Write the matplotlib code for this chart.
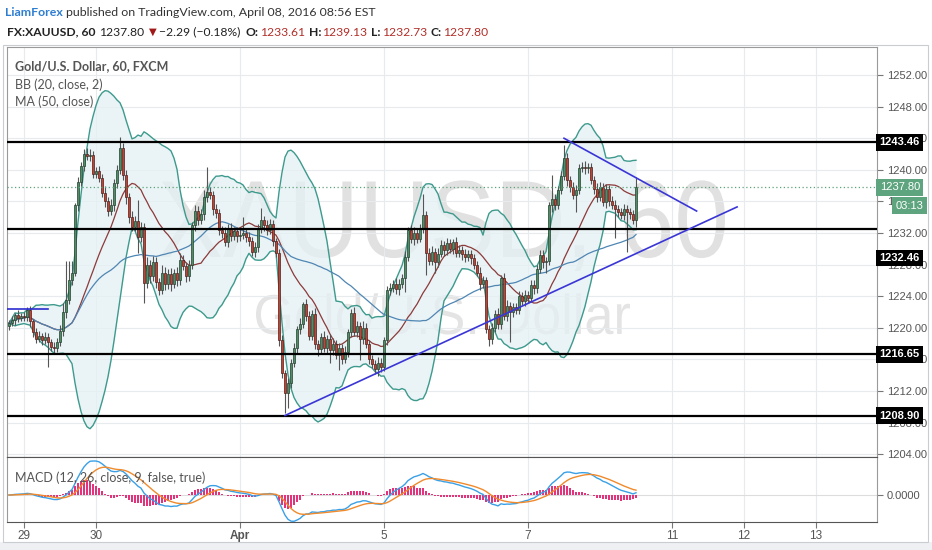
import numpy as np
import pandas as pd
import matplotlib
matplotlib.use("Agg")
import matplotlib.pyplot as plt
from matplotlib.patches import Rectangle, PathPatch
from matplotlib.textpath import TextPath
from matplotlib.font_manager import FontProperties
from matplotlib.transforms import Affine2D

W, H = 932, 550

# hourly bars of XAUUSD, hour 0 = 29 Mar 00:00 (trading hours only)
hours = np.arange(-5, 205)
first_open = 1220.2
closes = [
    1220.6, 1221.0, 1221.6, 1221.2, 1221.5, 1221.4, 1222.2, 1220.8, 1219.5, 1218.6,
    1219.0, 1218.4, 1218.8, 1218.2, 1217.6, 1217.4, 1218.2, 1219.6, 1222.0, 1223.5,
    1226.0, 1227.0, 1235.5, 1238.5, 1240.5, 1242.0, 1241.8, 1241.9, 1239.5, 1239.8,
    1239.0, 1237.0, 1236.0, 1234.8, 1235.5, 1238.3, 1240.0, 1242.8, 1239.3, 1236.5,
    1234.0, 1232.8, 1233.5, 1231.5, 1232.8, 1225.7, 1228.0, 1226.5, 1228.3, 1225.8,
    1224.8, 1227.0, 1225.5, 1226.8, 1225.5, 1227.0, 1226.0, 1228.6, 1227.8, 1226.5,
    1228.0, 1233.0, 1234.8, 1233.6, 1234.4, 1236.5, 1237.2, 1236.8, 1235.0, 1234.5,
    1232.4, 1232.0, 1230.9, 1232.6, 1231.6, 1232.2, 1231.6, 1231.8, 1232.0, 1231.5,
    1231.0, 1229.6, 1230.2, 1232.5, 1233.6, 1233.0, 1232.4, 1233.2, 1231.0, 1229.5,
    1218.5, 1214.3, 1211.8, 1213.0, 1215.6, 1217.5, 1219.8, 1220.5, 1223.0, 1221.5,
    1219.0, 1221.8, 1218.0, 1217.3, 1218.8, 1217.5, 1218.6, 1217.2, 1218.0, 1216.5,
    1217.5, 1216.0, 1217.0, 1219.5, 1221.9, 1219.5, 1220.2, 1218.6, 1220.0, 1218.0,
    1216.0, 1215.4, 1214.8, 1215.6, 1215.0, 1218.4, 1224.8, 1225.0, 1225.5, 1224.9,
    1225.6, 1226.3, 1229.0, 1232.4, 1231.2, 1232.0, 1231.3, 1232.6, 1234.3, 1229.5,
    1228.5, 1229.6, 1228.3, 1229.4, 1230.5, 1229.8, 1230.7, 1230.0, 1230.8, 1229.5,
    1229.9, 1229.3, 1228.9, 1229.3, 1228.8, 1228.0, 1227.0, 1225.6, 1226.0, 1219.8,
    1218.6, 1220.0, 1221.8, 1220.5, 1226.3, 1221.5, 1222.8, 1222.0, 1222.6, 1222.3,
    1224.0, 1223.4, 1224.2, 1223.8, 1225.4, 1225.0, 1227.5, 1229.2, 1228.3, 1228.5,
    1235.5, 1236.3, 1235.6, 1237.5, 1239.2, 1241.5, 1238.7, 1237.8, 1236.8, 1237.5,
    1240.2, 1240.4, 1240.2, 1240.3, 1238.7, 1237.6, 1236.6, 1237.8, 1235.9, 1237.6,
    1236.0, 1235.6, 1235.0, 1234.6, 1234.3, 1235.0, 1234.6, 1234.4, 1233.61, 1237.80,
]
wick_up = [
    0.4, 0.5, 0.3, 0.6, 0.4, 0.5, 0.4, 0.6, 0.3, 0.5,
    0.6, 0.4, 0.7, 0.5, 0.4, 0.6, 0.5, 0.8, 1.2, 5.0,
    2.4, 1.5, 0.3, 0.6, 0.5, 0.6, 0.8, 0.7, 0.5, 0.6,
    0.7, 0.5, 0.9, 0.6, 0.8, 0.5, 0.6, 1.3, 0.6, 0.7,
    0.5, 0.8, 0.6, 2.7, 0.6, 0.5, 0.9, 0.6, 0.8, 0.7,
    0.5, 0.9, 0.7, 0.6, 0.8, 0.5, 0.7, 0.9, 0.6, 0.5,
    0.6, 0.4, 0.8, 0.6, 0.7, 0.9, 3.2, 0.6, 0.5, 0.7,
    0.6, 0.5, 0.8, 0.6, 0.7, 0.5, 0.6, 0.7, 2.0, 0.5,
    0.6, 0.5, 0.7, 0.6, 1.6, 0.5, 0.7, 0.6, 0.5, 0.4,
    0.5, 0.6, 0.4, 0.7, 0.5, 0.6, 0.4, 0.8, 0.3, 0.7,
    0.6, 0.5, 0.7, 0.5, 0.6, 0.8, 0.5, 0.6, 0.7, 0.5,
    0.6, 0.5, 0.7, 0.4, 0.5, 0.7, 0.6, 0.5, 0.8, 0.6,
    0.5, 0.6, 0.5, 0.7, 0.6, 0.4, 0.5, 0.7, 0.6, 0.8,
    0.6, 0.5, 0.7, 0.4, 0.6, 0.7, 0.5, 0.6, 2.6, 0.5,
    0.6, 0.8, 0.5, 0.7, 0.6, 0.5, 0.7, 0.6, 0.5, 0.7,
    0.6, 0.5, 0.7, 0.6, 0.5, 0.6, 0.5, 0.7, 0.6, 0.4,
    0.5, 0.6, 0.5, 0.7, 0.4, 0.6, 0.7, 0.5, 0.6, 0.5,
    0.7, 0.5, 0.6, 0.5, 0.7, 0.6, 0.5, 0.6, 0.7, 0.5,
    0.4, 3.0, 0.6, 0.5, 0.7, 1.6, 0.6, 0.5, 0.7, 0.6,
    0.5, 0.6, 0.7, 0.5, 0.6, 0.5, 0.7, 0.6, 0.5, 0.6,
    0.5, 0.7, 0.6, 0.5, 0.6, 0.7, 0.5, 0.6, 0.5, 1.33,
]
wick_dn = [
    0.5, 0.4, 0.6, 0.5, 0.4, 0.6, 0.5, 0.7, 0.6, 0.5,
    0.4, 0.6, 0.5, 3.2, 0.5, 0.6, 0.4, 0.5, 0.6, 0.7,
    0.5, 0.6, 0.4, 0.7, 0.5, 0.6, 0.5, 0.7, 0.6, 0.5,
    0.6, 0.5, 0.7, 0.6, 0.5, 0.7, 0.6, 0.5, 0.6, 0.8,
    0.7, 0.6, 0.5, 2.0, 0.6, 2.6, 0.7, 0.8, 0.6, 0.7,
    0.6, 0.5, 0.7, 0.6, 0.8, 0.5, 0.7, 0.6, 0.5, 0.7,
    0.6, 0.5, 0.7, 0.6, 0.5, 0.7, 0.6, 0.5, 0.7, 0.6,
    0.7, 0.6, 0.5, 0.7, 0.6, 0.5, 0.7, 0.6, 0.5, 0.7,
    0.6, 0.5, 0.7, 0.6, 0.5, 0.7, 0.6, 0.5, 0.7, 0.6,
    0.8, 0.7, 2.6, 2.0, 0.6, 0.5, 0.7, 0.6, 0.5, 0.7,
    0.6, 0.5, 0.7, 0.9, 0.6, 0.5, 0.7, 1.7, 0.6, 0.5,
    1.8, 0.6, 0.5, 0.7, 0.6, 0.5, 0.7, 2.7, 0.6, 0.5,
    0.6, 0.5, 0.7, 0.9, 0.6, 0.5, 0.6, 0.7, 0.5, 0.6,
    0.7, 0.5, 1.8, 0.6, 0.5, 0.7, 0.6, 0.5, 0.6, 2.8,
    0.6, 0.5, 1.3, 0.6, 0.5, 0.7, 0.6, 0.5, 0.7, 0.6,
    0.5, 0.7, 0.6, 0.5, 0.7, 0.6, 0.5, 0.8, 0.6, 0.5,
    0.9, 0.6, 0.5, 0.7, 0.6, 0.5, 0.7, 3.8, 0.6, 0.5,
    0.6, 0.5, 0.7, 0.6, 0.5, 0.7, 0.6, 0.5, 0.7, 1.3,
    0.6, 0.8, 0.7, 0.5, 0.6, 0.5, 0.7, 0.6, 0.5, 2.1,
    0.6, 0.5, 0.7, 0.6, 0.5, 0.7, 0.7, 0.6, 0.5, 0.7,
    0.6, 0.5, 3.6, 0.6, 0.5, 0.7, 5.0, 0.6, 0.5, 0.88,
]

# drawn levels and trend lines
levels = [1243.46, 1232.46, 1216.65, 1208.90]
level_tags = ["1243.46", "1232.46", "1216.65", "1208.90"]
level_tag_y = [1243.46, 1228.84, 1216.65, 1208.90]
last_price = 1237.80
trend_up_x, trend_up_y = [87, 237.7], [1208.9, 1235.3]
trend_dn_x, trend_dn_y = [180, 224.2], [1243.99, 1234.78]
old_x, old_y = [-6.3, 8], [1222.34, 1222.34]

day_ticks = [0, 24, 72, 120, 168, 216, 240, 264]
day_labels = ["29", "30", "Apr", "5", "7", "11", "12", "13"]
price_ticks = [1204, 1208, 1212, 1216, 1220, 1224, 1228, 1232, 1236, 1240, 1244, 1248, 1252]

# indicators
s = pd.Series(closes, index=hours)
basis = s.rolling(20, min_periods=1).mean()
dev = s.rolling(20, min_periods=1).std(ddof=0).fillna(0)
upper = basis + 2 * dev
lower = basis - 2 * dev
ma50 = s.rolling(50, min_periods=1).mean()
macd = s.ewm(span=12, adjust=False).mean() - s.ewm(span=26, adjust=False).mean()
signal = macd.ewm(span=9, adjust=False).mean()
hist = macd - signal

closes_a = np.array(closes)
opens = np.r_[first_open, closes_a[:-1]]
highs = np.maximum(opens, closes_a) + np.array(wick_up)
lows = np.minimum(opens, closes_a) - np.array(wick_dn)

FONT = ["Lato", "DejaVu Sans"]
AXF = ["Liberation Sans", "DejaVu Sans"]
plt.rcParams["font.family"] = FONT

fig = plt.figure(figsize=(W / 100, H / 100), dpi=100, facecolor="white")


def px_axes(l, t, r, b):
    return fig.add_axes([l / W, 1 - b / H, (r - l) / W, (b - t) / H])


# outer frame and bottom strip
fig.patches.append(Rectangle((0, 0), 1, 8 / H, transform=fig.transFigure,
                             fc="#eef0f3", ec="none", zorder=0))
fig.patches.append(Rectangle((3 / W, 1 - 542 / H), 925 / W, 497 / H,
                             transform=fig.transFigure, fc="none", ec="#c9cdd1", lw=0.8))

ax = px_axes(7, 47, 877, 457)
mx = px_axes(7, 457, 877, 522)
xlim = ((7 - 24) / 3, (877 - 24) / 3)

# ---- price pane ----
ax.set_xlim(*xlim)
ax.set_ylim(1203.65, 1255.54)
ax.set_xticks(day_ticks)
ax.tick_params(axis="x", length=0, labelbottom=False)
ax.yaxis.tick_right()
ax.set_yticks(price_ticks)
ax.set_yticklabels([f"{p:.2f}" for p in price_ticks])
ax.tick_params(axis="y", length=4, width=0.8, color="#777777", labelsize=8,
               labelcolor="#555555", pad=3)
for lab in ax.get_yticklabels():
    lab.set_family(AXF)
ax.grid(True, color="#e8ebee", lw=0.8)
ax.set_axisbelow(True)
for sp in ax.spines.values():
    sp.set_color("#9a9a9a")
    sp.set_linewidth(0.8)
ax.spines["bottom"].set_color("#555555")


# watermark, squeezed to the width of the original narrow face
def watermark(txt, x0, x1, base_y, cap_px, color):
    tp = TextPath((0, 0), txt, size=1, prop=FontProperties(family="Liberation Sans"))
    ext = tp.get_extents()
    sx = (x1 - x0) / ext.width
    sy = cap_px / 0.729
    tr = (Affine2D().translate(-ext.x0, 0).scale(sx / W, sy / H)
          .translate(x0 / W, 1 - base_y / H) + fig.transFigure)
    ax.add_patch(PathPatch(tp, transform=tr, fc=color, ec="none", zorder=0.5))


watermark("XAUUSD, 60", 160, 725, 257, 80, "#e1e1e1")
watermark("Gold/U.S. Dollar", 256, 630, 334, 41, "#e4e4e4")

# bollinger bands and MA
ax.fill_between(hours, lower, upper, color="#e4f0f3", alpha=0.75, lw=0, zorder=1)
ax.plot(hours, upper, color="#3d9a8d", lw=1.0, zorder=2)
ax.plot(hours, lower, color="#3d9a8d", lw=1.0, zorder=2)
ax.plot(hours, basis, color="#8c3a3a", lw=0.9, zorder=2)
ax.plot(hours, ma50, color="#4f86b3", lw=0.9, zorder=2)

# candles
up = closes_a >= opens
ax.vlines(hours, lows, highs, color="#555555", lw=0.8, zorder=3)
body_lo = np.minimum(opens, closes_a)
body_h = np.maximum(np.abs(closes_a - opens), 0.1)
ax.bar(hours[up], body_h[up], bottom=body_lo[up], width=0.75, color="#4e8d66",
       edgecolor="#26402f", lw=0.5, zorder=4)
ax.bar(hours[~up], body_h[~up], bottom=body_lo[~up], width=0.75, color="#c4432f",
       edgecolor="#4a2020", lw=0.5, zorder=4)

# drawings
for lv in levels:
    ax.axhline(lv, color="black", lw=1.6, zorder=5)
ax.plot(trend_up_x, trend_up_y, color="#3a36d6", lw=1.2, zorder=5)
ax.plot(trend_dn_x, trend_dn_y, color="#3a36d6", lw=1.2, zorder=5)
ax.plot(old_x, old_y, color="#2b2bd0", lw=1.2, zorder=5)
ax.axhline(last_price, color="#5aa57a", ls=(0, (1, 2)), lw=0.9, zorder=5)

ytf = ax.get_yaxis_transform()
for yv, tag in zip(level_tag_y, level_tags):
    ax.text(1.003, yv, tag, transform=ytf, ha="left", va="center", color="white",
            fontweight="bold", fontsize=8, family=AXF, clip_on=False, zorder=10,
            bbox=dict(boxstyle="square,pad=0.3", fc="black", ec="none"))
ax.text(1.003, last_price, "1237.80", transform=ytf, ha="left", va="center", color="white",
        fontsize=8, family=AXF, clip_on=False, zorder=10,
        bbox=dict(boxstyle="square,pad=0.3", fc="#5ea57f", ec="none"))
ax.text(1.0215, 1235.45, "03:13", transform=ytf, ha="left", va="center", color="white",
        fontsize=8, family=AXF, clip_on=False, zorder=10,
        bbox=dict(boxstyle="square,pad=0.3", fc="#5ea57f", ec="none"))

# legend text
ax.text(8 / 870, 1 - 19 / 410, "Gold/U.S. Dollar, 60, FXCM", transform=ax.transAxes,
        ha="left", va="center", fontsize=9, fontweight="bold", color="#555555")
ax.text(8 / 870, 1 - 38 / 410, "BB (20, close, 2)", transform=ax.transAxes,
        ha="left", va="center", fontsize=9, color="#555555")
ax.text(8 / 870, 1 - 55 / 410, "MA (50, close)", transform=ax.transAxes,
        ha="left", va="center", fontsize=9, color="#555555")

# ---- MACD pane ----
mx.set_xlim(*xlim)
top = max(macd.max(), signal.max()) * 38 / 34
mx.set_ylim(-top * 27 / 38, top)
mx.set_xticks(day_ticks)
mx.set_xticklabels(day_labels)
mx.get_xticklabels()[2].set_fontweight("bold")
mx.tick_params(axis="x", length=4, width=0.8, color="#777777", labelsize=8.5,
               labelcolor="#555555", pad=2)
for lab in mx.get_xticklabels():
    lab.set_family(AXF)
mx.yaxis.tick_right()
mx.set_yticks([0])
mx.set_yticklabels(["0.0000"])
mx.tick_params(axis="y", length=4, width=0.8, color="#777777", labelsize=8,
               labelcolor="#555555", pad=3)
for lab in mx.get_yticklabels():
    lab.set_family(AXF)
mx.grid(True, axis="x", color="#e8ebee", lw=0.8)
mx.set_axisbelow(True)
for sp in mx.spines.values():
    sp.set_color("#9a9a9a")
    sp.set_linewidth(0.8)
mx.spines["top"].set_color("#555555")
mx.spines["bottom"].set_color("#555555")
mx.axhline(0, color="#dddddd", lw=0.8, zorder=1)
mx.bar(hours, hist, width=0.45, color="#e2347d", zorder=2)
mx.plot(hours, macd, color="#3aa0e6", lw=1.0, zorder=3)
mx.plot(hours, signal, color="#f08a2c", lw=1.0, zorder=3)
mx.text(8 / 870, 1 - 21 / 65, "MACD (12, 26, close, 9, false, true)", transform=mx.transAxes,
        ha="left", va="center", fontsize=9, color="#555555")

# ---- header: coloured runs laid out one after another ----
renderer = fig.canvas.get_renderer()


def header_line(x, y, parts, size=8.9):
    for txt, color, weight, gap in parts:
        fam = ["DejaVu Sans"] if txt == "\u25bc" else FONT
        fs = size - 1.5 if txt == "\u25bc" else size
        t = fig.text(x / W, 1 - y / H, txt, color=color, fontweight=weight, fontsize=fs,
                     family=fam, ha="left", va="center")
        x += t.get_window_extent(renderer).width + gap


red = "#b0302a"
dark = "#222222"
header_line(5, 13, [("LiamForex", "#2d7dd2", "bold", 3),
                    ("published on TradingView.com, April 08, 2016 08:56 EST", "#333333", "normal", 0)])
header_line(7, 32, [("FX:XAUUSD, 60", dark, "bold", 4),
                    ("1237.80", dark, "normal", 4),
                    ("\u25bc", "#a01818", "normal", 3),
                    ("\u22122.29 (\u22120.18%)", dark, "normal", 5),
                    ("O:", dark, "bold", 1), ("1233.61", red, "normal", 4),
                    ("H:", dark, "bold", 1), ("1239.13", red, "normal", 4),
                    ("L:", dark, "bold", 1), ("1232.73", red, "normal", 4),
                    ("C:", dark, "bold", 1), ("1237.80", red, "normal", 0)], size=8.7)

fig.savefig("out.png", dpi=100, facecolor="white")
